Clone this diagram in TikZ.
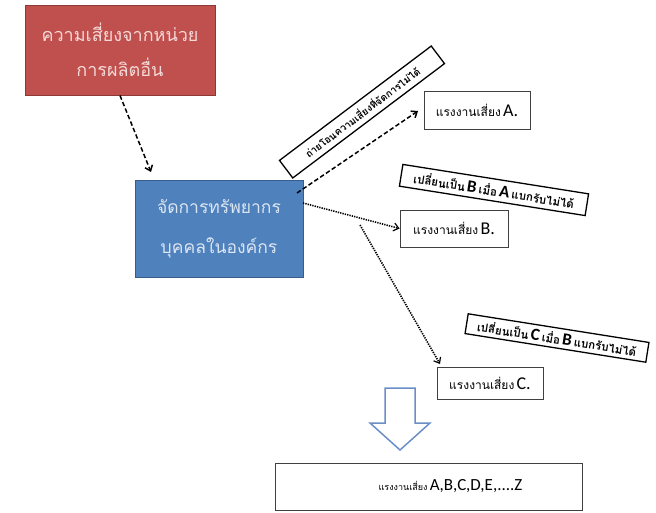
\documentclass[tikz,border=0pt]{standalone}
\usepackage{fontspec}
\setmainfont{Carlito}
\newfontfamily\thai[Script=Thai]{Loma}
\usetikzlibrary{arrows.meta}
\definecolor{redfill}{HTML}{C0504D}
\definecolor{redline}{HTML}{8C3836}
\definecolor{redtext}{HTML}{F4D9D8}
\definecolor{bluefill}{HTML}{4F81BD}
\definecolor{blueline}{HTML}{385D8A}
\definecolor{bluetext}{HTML}{DCE6F2}
\definecolor{arrowblue}{HTML}{6A8FC7}
\newcommand{\thtxt}[1]{{\thai\fontsize{12}{14}\selectfont #1}}
\newcommand{\lttxt}[1]{{\fontsize{18}{20}\selectfont #1}}
\newcommand{\tagth}[1]{{\thai\bfseries\fontsize{11.5}{13}\selectfont #1}}
\newcommand{\taglt}[1]{{\bfseries\fontsize{17}{19}\selectfont #1}}
\tikzset{
  redbox/.style={draw=redline, line width=1pt, fill=redfill, text=redtext, align=center, inner sep=0pt, font=\thai\fontsize{18}{35}\selectfont},
  bluebox/.style={draw=blueline, line width=1pt, fill=bluefill, text=bluetext, align=center, inner sep=0pt, font=\thai\fontsize{17.5}{40}\selectfont},
  workbox/.style={draw=black!75, line width=0.8pt, fill=white, inner sep=0pt},
  tagbox/.style={draw=black, line width=1.3pt, fill=white, inner sep=0pt},
  dashedarrow/.style={line width=1.5pt, dash pattern=on 4.5pt off 2.5pt, -{Straight Barb[length=5pt,width=8pt]}},
  dottedarrow/.style={line width=1.6pt, dash pattern=on 1.3pt off 1.1pt, -{Straight Barb[length=5pt,width=8pt,line width=1.2pt]}},
}
\begin{document}
\begin{tikzpicture}[x=1pt,y=-1pt]
\useasboundingbox (0,0) rectangle (656,512);
\node[redbox, minimum width=190, minimum height=90] (risk) at (120,50) {ความเสี่ยงจากหน่วย\\การผลิตอื่น};
\node[bluebox, minimum width=168, minimum height=97] (hr) at (219,228.5) {จัดการทรัพยากร\\บุคคลในองค์กร};
\node[workbox, minimum width=106, minimum height=38] (wa) at (477,110) {\thtxt{แรงงานเสี่ยง} \lttxt{A.}};
\node[workbox, minimum width=108, minimum height=37] (wb) at (454,228.5) {\thtxt{แรงงานเสี่ยง} \lttxt{B.}};
\node[workbox, minimum width=106, minimum height=32] (wc) at (490,383.5) {\thtxt{แรงงานเสี่ยง} \lttxt{C.}};
\node[workbox, minimum width=307, minimum height=47] (all) at (428.5,486.5) {\hspace*{44pt}{\thai\fontsize{9}{11}\selectfont แรงงานเสี่ยง} {\fontsize{17}{19}\selectfont A,B,C,D,E,....Z}};
\node[tagbox, rotate=37, minimum width=190, minimum height=22] (t1) at (362,112) {{\thai\bfseries\fontsize{10}{11}\selectfont ถ่ายโอนความเสี่ยงที่จัดการไม่ได้}};
\node[tagbox, rotate=-9, minimum width=188, minimum height=22] (t2) at (494,190) {\tagth{เปลี่ยนเป็น} \taglt{B} \tagth{เมื่อ} \taglt{A} \tagth{แบกรับไม่ได้}};
\node[tagbox, rotate=-9, minimum width=183, minimum height=20] (t3) at (557,338) {\tagth{เปลี่ยนเป็น} \taglt{C} \tagth{เมื่อ} \taglt{B} \tagth{แบกรับไม่ได้}};
\coordinate (e1) at (151,172);
\coordinate (s2) at (297,193);
\coordinate (e2) at (418,111);
\coordinate (s3) at (303,203);
\coordinate (s4) at (360,225);
\coordinate (e4) at (440,364);
\draw[dashedarrow] (risk.south) -- (e1);
\draw[dashedarrow] (s2) -- (e2);
\draw[dottedarrow] (s3) -- (wb.west);
\draw[dottedarrow] (s4) -- (e4);
\draw[arrowblue, line width=1.5pt, fill=white, line join=miter] (385,388) -- (415,388) -- (415,423) -- (430,423) -- (400,450) -- (370,423) -- (385,423) -- cycle;
\end{tikzpicture}
\end{document}
